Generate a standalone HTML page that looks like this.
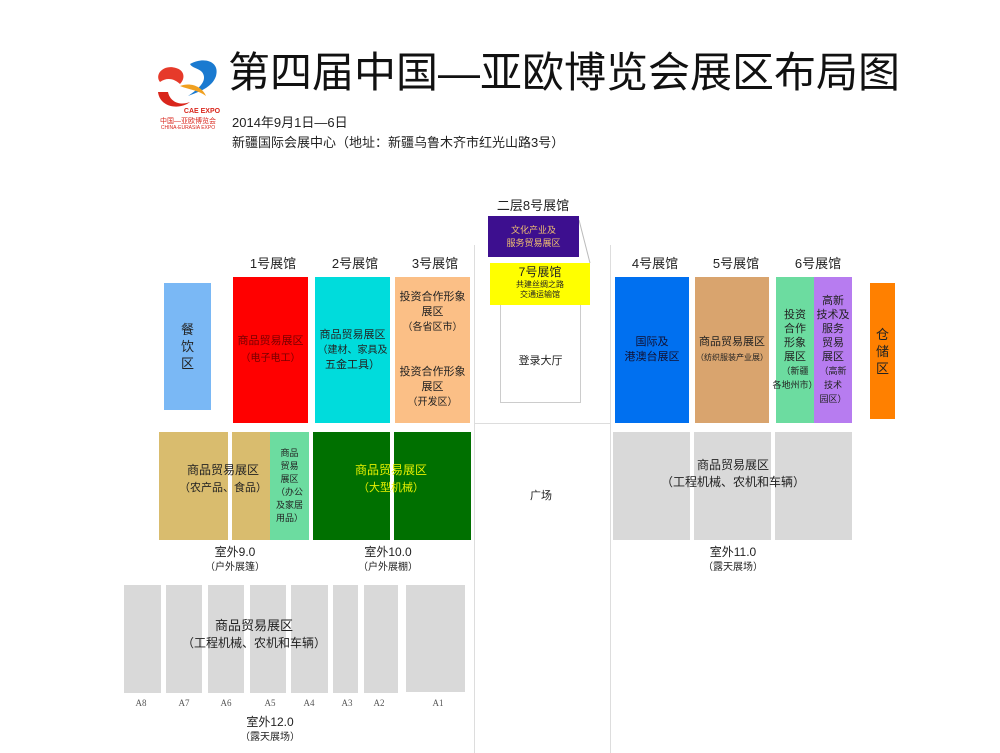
<!DOCTYPE html>
<html><head><meta charset="utf-8"><style>
body{margin:0;width:1000px;height:753px;background:#fff;position:relative;overflow:hidden;font-family:"Liberation Sans","Noto Sans CJK SC",sans-serif;color:#222}
.a{position:absolute}
.b{position:absolute;display:flex;flex-direction:column;align-items:center;justify-content:center;text-align:center;box-sizing:border-box;white-space:nowrap}
.t{position:absolute;white-space:nowrap;transform:translateX(-50%);text-align:center}
.g{background:#d9d9d9}
.s{font-size:10px}
.m{font-size:12px;line-height:17px}
</style></head><body>
<!-- logo -->
<svg class="a" style="left:150px;top:52px" width="75" height="78" viewBox="0 0 75 78">
<path d="M40 12 C55 4 70 10 66 24 C62 36 48 40 38 44 C50 36 58 28 52 20 C48 16 42 16 40 12Z" fill="#1a7ad0"/>
<path d="M10 30 C4 22 14 12 26 16 C34 18 36 26 30 32 C26 28 18 24 10 30Z" fill="#e63a2a"/>
<path d="M8 40 C10 56 30 58 40 50 C30 54 20 50 18 40Z" fill="#d9261c"/>
<path d="M30 34 C40 30 52 34 56 44 C48 38 40 38 30 34Z" fill="#f0a020"/>
<text x="52" y="61" font-size="7" font-weight="bold" fill="#d9261c" text-anchor="middle" font-family="Liberation Sans">CAE EXPO</text>
<text x="38" y="71" font-size="7" fill="#d9261c" text-anchor="middle" font-family="Liberation Sans,Noto Sans CJK SC">中国—亚欧博览会</text>
<text x="38" y="77" font-size="5" fill="#d9261c" text-anchor="middle" font-family="Liberation Sans">CHINA-EURASIA EXPO</text>
</svg>
<div class="a" style="left:228px;top:47px;font-size:42px;line-height:52px;color:#111;white-space:nowrap">第四届中国—亚欧博览会展区布局图</div>
<div class="a" style="left:232px;top:114px;font-size:13px;line-height:18px">2014年9月1日—6日</div>
<div class="a" style="left:232px;top:134px;font-size:13px;line-height:18px">新疆国际会展中心（地址：新疆乌鲁木齐市红光山路3号）</div>

<!-- lines -->
<div class="a" style="left:474px;top:245px;width:1px;height:508px;background:#ddd"></div>
<div class="a" style="left:610px;top:245px;width:1px;height:508px;background:#ddd"></div>
<div class="a" style="left:474px;top:423px;width:137px;height:1px;background:#ddd"></div>

<!-- hall labels -->
<div class="t" style="left:273px;top:253px;font-size:13px">1号展馆</div>
<div class="t" style="left:355px;top:253px;font-size:13px">2号展馆</div>
<div class="t" style="left:435px;top:253px;font-size:13px">3号展馆</div>
<div class="t" style="left:533px;top:195px;font-size:13px">二层8号展馆</div>
<div class="t" style="left:655px;top:253px;font-size:13px">4号展馆</div>
<div class="t" style="left:736px;top:253px;font-size:13px">5号展馆</div>
<div class="t" style="left:818px;top:253px;font-size:13px">6号展馆</div>

<div class="b" style="left:164px;top:283px;width:47px;height:127px;background:#7ab8f5;font-size:13px;line-height:17px">餐<br>饮<br>区</div>
<div class="b m" style="left:233px;top:277px;width:75px;height:146px;background:#ff0000;color:#700"><div style="font-size:11px">商品贸易展区</div><div class="s">（电子电工）</div></div>
<div class="b" style="left:315px;top:277px;width:75px;height:146px;background:#00dcdc;font-size:11px;line-height:15px"><span>商品贸易展区</span><span style="font-size:10px">（建材、家具及</span><span>五金工具）</span></div>
<div class="b" style="left:395px;top:277px;width:75px;height:146px;background:#fbbf86;font-size:11px;line-height:15px">投资合作形象<br>展区<br><span class="s">（各省区市）</span><br><br>投资合作形象<br>展区<br><span class="s">（开发区）</span></div>

<svg class="a" style="left:575px;top:215px" width="20" height="52"><line x1="4" y1="5" x2="15" y2="48" stroke="#bbb" stroke-width="1"/></svg>
<div class="b" style="left:488px;top:216px;width:91px;height:41px;background:#3d0f8f;color:#f0c070;font-size:9px;line-height:13px">文化产业及<br>服务贸易展区</div>
<div class="b" style="left:500px;top:300px;width:81px;height:103px;border:1px solid #ccc;font-size:11px;padding-top:16px">登录大厅</div>
<div class="b" style="left:490px;top:263px;width:100px;height:42px;background:#ffff00;font-size:8px;line-height:10px;justify-content:flex-start;padding-top:2px"><div style="font-size:12px;line-height:15px">7号展馆</div>共建丝绸之路<br>交通运输馆</div>

<div class="b" style="left:615px;top:277px;width:74px;height:146px;background:#0070f0;font-size:11px;line-height:15px;color:#113">国际及<br>港澳台展区</div>
<div class="b" style="left:695px;top:277px;width:74px;height:146px;background:#d9a46e;font-size:11px;line-height:15px">商品贸易展区<span style="font-size:8px">（纺织服装产业展）</span></div>
<div class="b" style="left:776px;top:277px;width:38px;height:146px;background:#6cdca0;font-size:11px;line-height:14px">投资<br>合作<br>形象<br>展区<br><span style="font-size:9px">（新疆<br>各地州市）</span></div>
<div class="b" style="left:814px;top:277px;width:38px;height:146px;background:#b77cf0;font-size:11px;line-height:14px">高新<br>技术及<br>服务<br>贸易<br>展区<br><span style="font-size:9px">（高新<br>技术<br>园区）</span></div>
<div class="b" style="left:870px;top:283px;width:25px;height:136px;background:#ff8000;font-size:13px;line-height:17px">仓<br>储<br>区</div>

<!-- right outdoor -->
<div class="a g" style="left:613px;top:432px;width:77px;height:108px"></div>
<div class="a g" style="left:694px;top:432px;width:77px;height:108px"></div>
<div class="a g" style="left:775px;top:432px;width:77px;height:108px"></div>
<div class="t" style="left:733px;top:457px;font-size:12px;line-height:17px">商品贸易展区<br>（工程机械、农机和车辆）</div>
<div class="t" style="left:733px;top:545px;font-size:12px;line-height:14px">室外11.0<br><span class="s">（露天展场）</span></div>
<div class="t" style="left:541px;top:487px;font-size:11px">广场</div>

<!-- left outdoor -->
<div class="a" style="left:159px;top:432px;width:69px;height:108px;background:#d9bc6e"></div>
<div class="a" style="left:232px;top:432px;width:38px;height:108px;background:#d9bc6e"></div>
<div class="b" style="left:270px;top:432px;width:39px;height:108px;background:#6cdca0;font-size:9px;line-height:13px">商品<br>贸易<br>展区<br>（办公<br>及家居<br>用品）</div>
<div class="t" style="left:223px;top:462px;font-size:12px;line-height:17px">商品贸易展区<br><span style="font-size:11px">（农产品、食品）</span></div>
<div class="a" style="left:313px;top:432px;width:77px;height:108px;background:#007000"></div>
<div class="a" style="left:394px;top:432px;width:77px;height:108px;background:#007000"></div>
<div class="t" style="left:391px;top:462px;font-size:12px;line-height:17px;color:#e6f000">商品贸易展区<br><span style="font-size:11px">（大型机械）</span></div>
<div class="t" style="left:235px;top:545px;font-size:12px;line-height:14px">室外9.0<br><span class="s">（户外展篷）</span></div>
<div class="t" style="left:388px;top:545px;font-size:12px;line-height:14px">室外10.0<br><span class="s">（户外展棚）</span></div>

<!-- A boxes -->
<div class="a g" style="left:124px;top:585px;width:37px;height:108px"></div>
<div class="a g" style="left:166px;top:585px;width:36px;height:108px"></div>
<div class="a g" style="left:208px;top:585px;width:36px;height:108px"></div>
<div class="a g" style="left:250px;top:585px;width:36px;height:108px"></div>
<div class="a g" style="left:291px;top:585px;width:37px;height:108px"></div>
<div class="a g" style="left:333px;top:585px;width:25px;height:108px"></div>
<div class="a g" style="left:364px;top:585px;width:34px;height:108px"></div>
<div class="a g" style="left:406px;top:585px;width:59px;height:107px"></div>
<div class="t" style="left:254px;top:617px;font-size:12px;line-height:17px"><span style="font-size:13px">商品贸易展区</span><br>（工程机械、农机和车辆）</div>
<div class="a" style="left:0;top:698px;font-family:'Liberation Serif',serif;font-size:9px;color:#555">
<span class="t" style="left:141px">A8</span><span class="t" style="left:184px">A7</span><span class="t" style="left:226px">A6</span><span class="t" style="left:270px">A5</span><span class="t" style="left:309px">A4</span><span class="t" style="left:347px">A3</span><span class="t" style="left:379px">A2</span><span class="t" style="left:438px">A1</span></div>
<div class="t" style="left:270px;top:715px;font-size:12px;line-height:14px">室外12.0<br><span class="s">（露天展场）</span></div>
</body></html>
